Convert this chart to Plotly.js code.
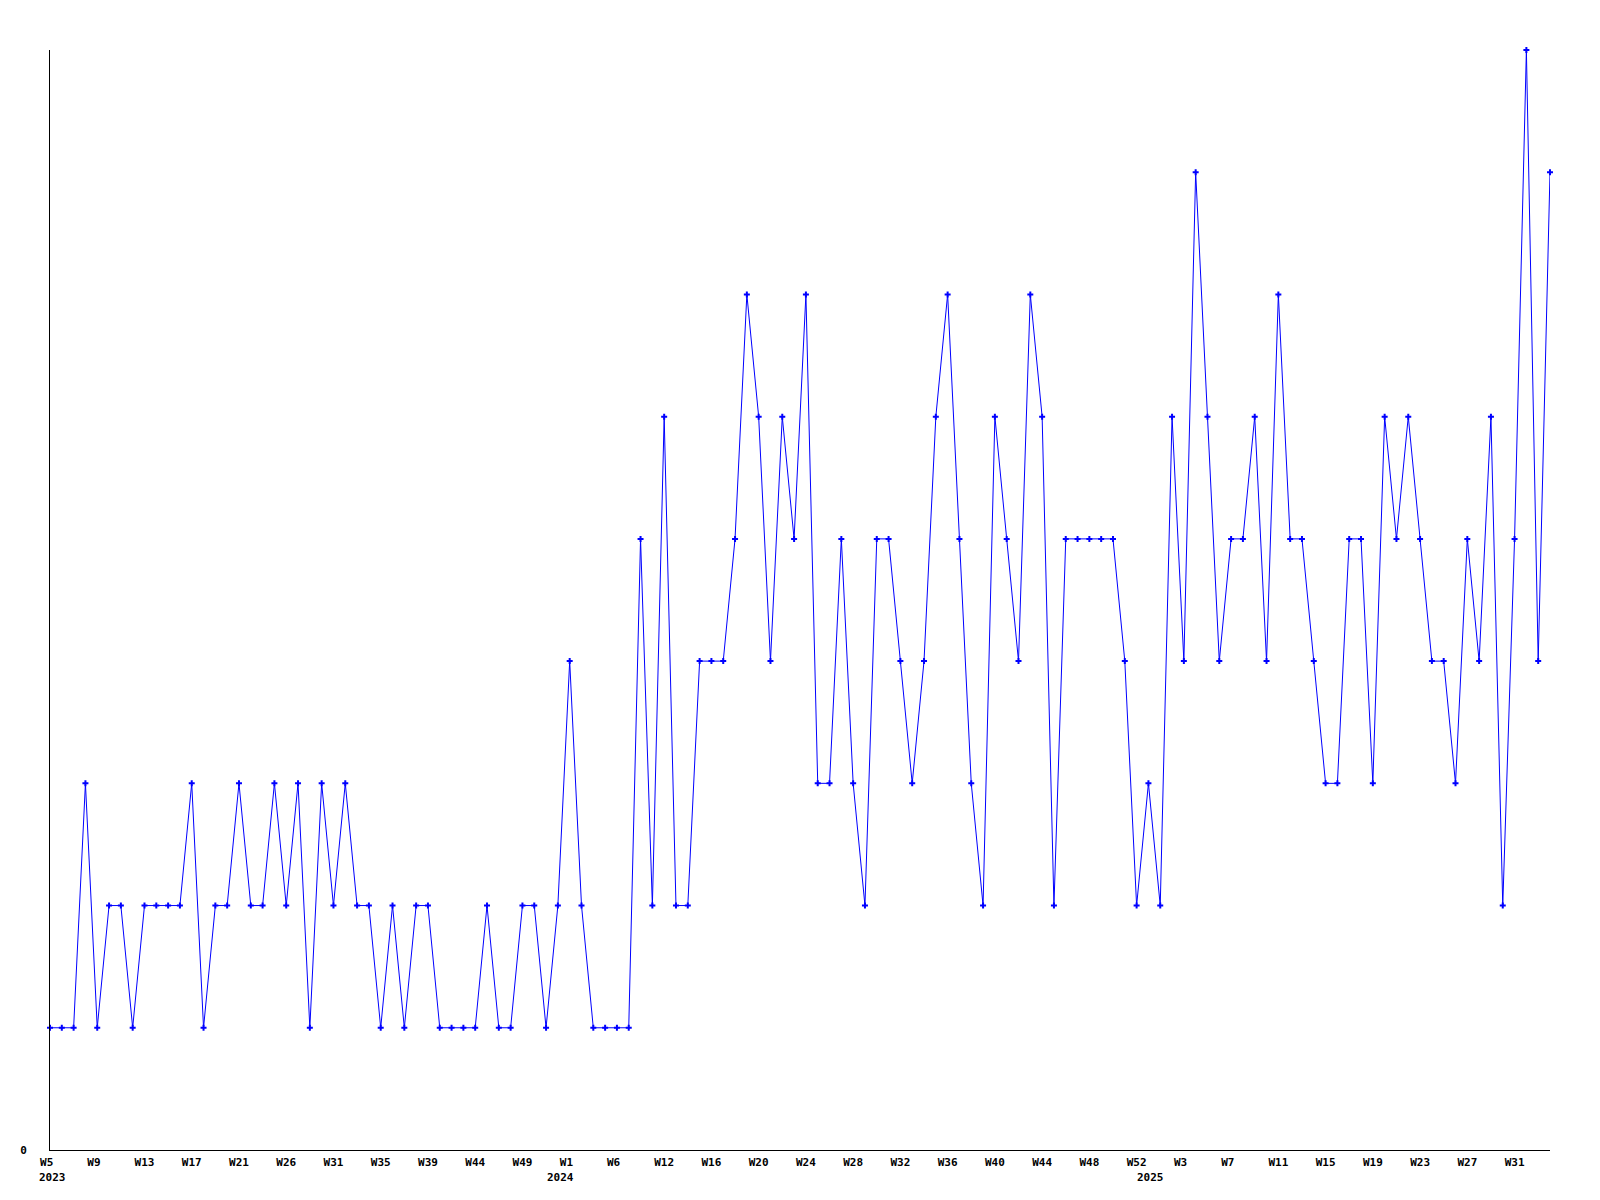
<!DOCTYPE html>
<html>
<head>
<meta charset="utf-8">
<script src="https://cdn.plot.ly/plotly-3.0.1.min.js"></script>
<style>
  html, body { margin: 0; padding: 0; background: #ffffff; }
  #chart { width: 1600px; height: 1200px; }
</style>
</head>
<body>
<div id="chart"></div>
<script>
// Weekly values, one per point (2023 W5 onwards)
const values = [
  1,1,1,3,1,2,2,1,2,2,
  2,2,3,1,2,2,3,2,2,3,
  2,3,1,3,2,3,2,2,1,2,
  1,2,2,1,1,1,1,2,1,1,
  2,2,1,2,4,2,1,1,1,1,
  5,2,6,2,2,4,4,4,5,7,
  6,4,6,5,7,3,3,5,3,2,
  5,5,4,3,4,6,7,5,3,2,
  6,5,4,7,6,2,5,5,5,5,
  5,4,2,3,2,6,4,8,6,4,
  5,5,6,4,7,5,5,4,3,3,
  5,5,3,6,5,6,5,4,4,3,
  5,4,6,2,5,9,4,8
];

// Week tick labels (one every 4 points)
const weekLabels = [
  "W5","W9","W13","W17","W21","W26","W31","W35","W39","W44","W49",
  "W1","W6","W12","W16","W20","W24","W28","W32","W36","W40","W44","W48","W52",
  "W3","W7","W11","W15","W19","W23","W27","W31"
];
const tickEvery = 4;

// Year labels and the point index where each year starts
const yearLabels = ["2023", "2024", "2025"];
const yearStartIndex = [0, 43, 93];

const yTickLabels = ["0"];

const xIdx = values.map((_, i) => i);
const tickvals = weekLabels.map((_, i) => i * tickEvery);
const ticktext = weekLabels.map(s => s.padEnd(3, "\u00a0"));

const labelFont = { family: "DejaVu Sans Mono, monospace", size: 11, color: "#000000", weight: "bold" };

const trace = {
  x: xIdx,
  y: values,
  type: "scatter",
  mode: "lines+markers",
  line: { color: "#0000ff", width: 1 },
  marker: { color: "#0000ff", symbol: "cross", size: 5 },
  cliponaxis: false,
  hoverinfo: "x+y"
};

const annotations = yearLabels.map((t, i) => ({
  text: t,
  x: yearStartIndex[i],
  xref: "x",
  xanchor: "left",
  xshift: -13,
  y: 0,
  yref: "paper",
  yanchor: "top",
  yshift: -19,
  showarrow: false,
  font: labelFont
}));

const layout = {
  width: 1600,
  height: 1200,
  margin: { l: 50, r: 50, t: 50, b: 50, pad: 0 },
  paper_bgcolor: "#ffffff",
  plot_bgcolor: "#ffffff",
  showlegend: false,
  font: labelFont,
  xaxis: {
    range: [0, values.length - 1],
    tickmode: "array",
    tickvals: tickvals,
    ticktext: ticktext,
    showgrid: false,
    zeroline: false,
    showline: true,
    linecolor: "#000000",
    linewidth: 1,
    ticks: "outside",
    ticklen: 2,
    tickcolor: "rgba(0,0,0,0)",
    tickfont: labelFont,
    tickangle: 0
  },
  yaxis: {
    range: [0, 9],
    tickmode: "array",
    tickvals: [0],
    ticktext: yTickLabels,
    showgrid: false,
    zeroline: false,
    showline: true,
    linecolor: "#000000",
    linewidth: 1,
    ticks: "outside",
    ticklen: 20,
    tickcolor: "rgba(0,0,0,0)",
    tickfont: labelFont
  },
  annotations: annotations
};

Plotly.newPlot("chart", [trace], layout, { displayModeBar: false, staticPlot: true });
</script>
</body>
</html>
